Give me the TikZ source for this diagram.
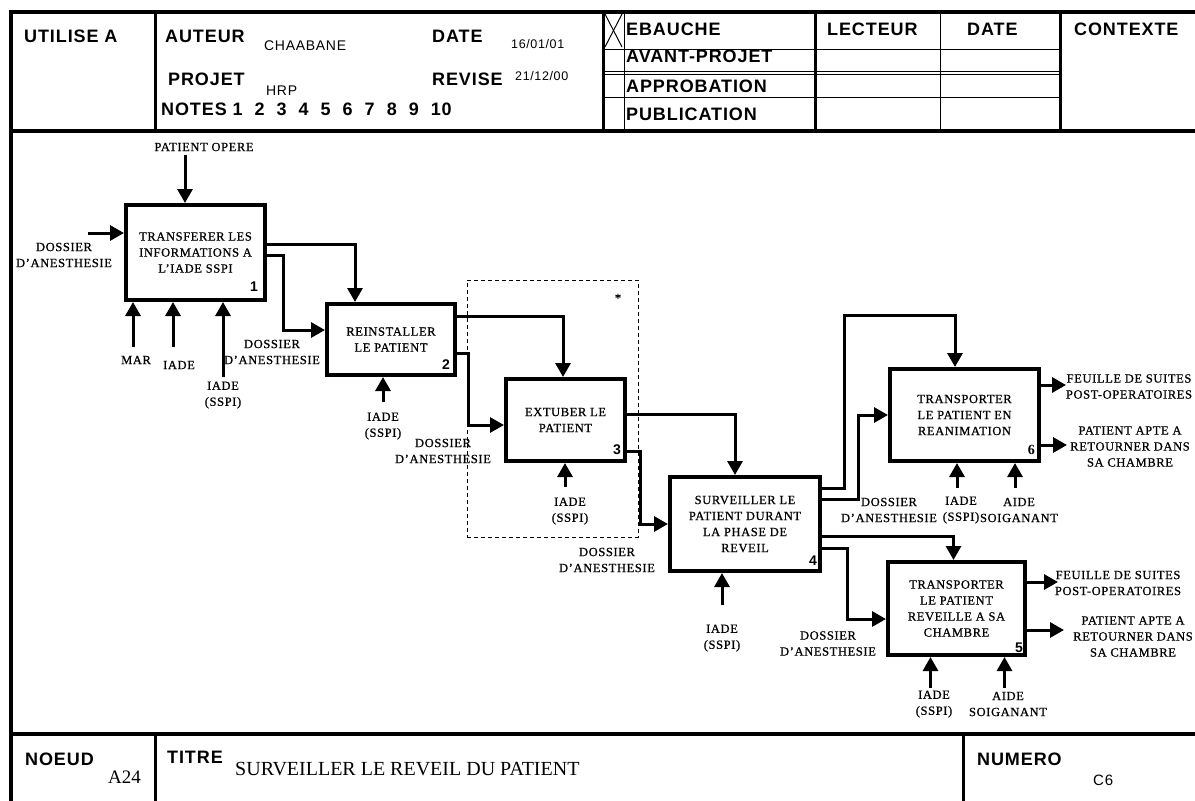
\documentclass[tikz,border=0pt]{standalone}
\usepackage{fontspec}
\setmainfont{Liberation Serif}
\setsansfont{Liberation Sans}
\newfontfamily\hdrfont[LetterSpace=5]{Liberation Sans}
\newfontfamily\lblfont[LetterSpace=5,FakeBold=0.8]{Liberation Serif}
\usetikzlibrary{arrows.meta}
\begin{document}
\begin{tikzpicture}[x=1pt,y=-1pt,
 frm/.style={line width=4pt},
 sepline/.style={line width=3pt},
 septhin/.style={line width=1pt},
 hdr/.style={font=\hdrfont\bfseries\fontsize{18}{20}\selectfont, inner sep=0pt, anchor=base west},
 hval/.style={font=\hdrfont\fontsize{14}{16}\selectfont, inner sep=0pt, anchor=base west},
 hdate/.style={font=\hdrfont\fontsize{12.5}{14}\selectfont, inner sep=0pt, anchor=base west},
 box/.style={draw, line width=4pt, rectangle, inner sep=0pt, align=center, font=\lblfont\fontsize{12.5}{16}\selectfont},
 lbl/.style={inner sep=0pt, align=center, font=\lblfont\fontsize{12.5}{16}\selectfont},
 num/.style={inner sep=0pt, anchor=base east, font=\hdrfont\bfseries\fontsize{14}{16}\selectfont},
 arr/.style={line width=3pt, -{Triangle[length=14pt,width=15pt]}},
 grp/.style={draw, line width=1pt, dash pattern=on 4pt off 3pt, inner sep=0pt}
]
\useasboundingbox (0,0) rectangle (1195,801);
% ---------- form frame ----------
\draw[frm] (11,803) -- (11,12) -- (1197,12);
\draw[frm] (11,131) -- (1197,131);
\draw[frm] (11,734) -- (1197,734);
\draw[sepline] (155,12) -- (155,131);
\draw[sepline] (603,12) -- (603,131);
\draw[septhin] (624,12) -- (624,131);
\draw[sepline] (815,12) -- (815,131);
\draw[septhin] (940,12) -- (940,131);
\draw[sepline] (1060,12) -- (1060,131);
\draw[septhin] (603,49) -- (1060,49);
\draw[septhin] (603,71) -- (1060,71);
\draw[septhin] (603,74) -- (1060,74);
\draw[septhin] (603,97) -- (1060,97);
\draw[septhin] (605,14) -- (622,47);
\draw[septhin] (622,14) -- (605,47);
\draw[sepline] (155,734) -- (155,803);
\draw[sepline] (963,734) -- (963,803);
% ---------- header texts ----------
\node[hdr] (hutil) at (24,42) {UTILISE A};
\node[hdr] (haut) at (165,42) {AUTEUR};
\node[hval] (haut2) at (264,50) {CHAABANE};
\node[hdr] (hdate) at (432,42) {DATE};
\node[hdate] (hdate2) at (511,48) {16/01/01};
\node[hdr] (hproj) at (168,85) {PROJET};
\node[hval] (hproj2) at (266,95) {HRP};
\node[hdr] (hrev) at (432,85) {REVISE};
\node[hdate] (hrev2) at (515,80) {21/12/00};
\node[hdr] (hnotes) at (161,115) {NOTES 1\hspace{12pt}2\hspace{12pt}3\hspace{12pt}4\hspace{12pt}5\hspace{12pt}6\hspace{12pt}7\hspace{12pt}8\hspace{12pt}9\hspace{12pt}10};
\node[hdr] (hebau) at (626,35) {EBAUCHE};
\node[hdr] (havant) at (626,62) {AVANT-PROJET};
\node[hdr] (happro) at (626,92) {APPROBATION};
\node[hdr] (hpubli) at (626,120) {PUBLICATION};
\node[hdr] (hlect) at (827,35) {LECTEUR};
\node[hdr] (hdate3) at (967,35) {DATE};
\node[hdr] (hcont) at (1074,35) {CONTEXTE};
% ---------- footer texts ----------
\node[hdr] (fnoeud) at (25,765) {NOEUD};
\node[inner sep=0pt, anchor=base west, font=\fontsize{19}{21}\selectfont] (fa24) at (108,783) {A24};
\node[hdr] (ftitre) at (167,763) {TITRE};
\node[inner sep=0pt, anchor=base west, font=\fontsize{20}{22}\selectfont] (ftitle) at (235,775) {SURVEILLER LE REVEIL DU PATIENT};
\node[hdr] (fnum) at (977,765) {NUMERO};
\node[inner sep=0pt, anchor=base west, font=\hdrfont\fontsize{15}{17}\selectfont] (fc6) at (1093,785) {C6};
% ---------- group frame ----------
\node[grp, minimum width=171pt, minimum height=257pt] (grpbox) at (552.5,408.5) {};
\node[lbl] (star) at (618,298) {*};
% ---------- activity boxes ----------
\node[box, minimum width=139pt, minimum height=95pt] (b1) at (195.5,252.5) {TRANSFERER LES\\INFORMATIONS A\\L’IADE SSPI};
\node[box, minimum width=128pt, minimum height=71pt] (b2) at (391,339.5) {REINSTALLER\\LE PATIENT};
\node[box, minimum width=119pt, minimum height=82pt] (b3) at (565.5,420) {EXTUBER LE\\PATIENT};
\node[box, minimum width=150pt, minimum height=94pt] (b4) at (745,524) {SURVEILLER LE\\PATIENT DURANT\\LA PHASE DE\\REVEIL};
\node[box, minimum width=149pt, minimum height=92pt] (b6) at (964.5,415) {TRANSPORTER\\LE PATIENT EN\\REANIMATION};
\node[box, minimum width=137pt, minimum height=93pt] (b5) at (956.5,608.5) {TRANSPORTER\\LE PATIENT\\REVEILLE A SA\\CHAMBRE};
\node[num] (n1) at ([shift={(-9,-11)}]b1.south east) {1};
\node[num] (n2) at ([shift={(-7,-8)}]b2.south east) {2};
\node[num] (n3) at ([shift={(-6,-9)}]b3.south east) {3};
\node[num] (n4) at ([shift={(-5,-8)}]b4.south east) {4};
\node[inner sep=0pt, anchor=base east, font=\bfseries\fontsize{14}{16}\selectfont] (n6) at ([shift={(-6,-9)}]b6.south east) {6};
\node[num] (n5) at ([shift={(-4,-5)}]b5.south east) {5};
% ---------- labels ----------
\node[lbl] (lpo) at (204,147) {PATIENT OPERE};
\node[lbl] (ld1) at (64,255) {DOSSIER\\D’ANESTHESIE};
\node[lbl] (lmar) at (136,360) {MAR};
\node[lbl] (lia1) at (179,365) {IADE};
\node[lbl] (lis1) at (223,395) {IADE\\(SSPI)};
\node[lbl] (ld2) at (272,352) {DOSSIER\\D’ANESTHESIE};
\node[lbl] (lis2) at (383,426) {IADE\\(SSPI)};
\node[lbl] (ld3) at (443,451) {DOSSIER\\D’ANESTHESIE};
\node[lbl] (lis3) at (570,511) {IADE\\(SSPI)};
\node[lbl] (ld4) at (607,560) {DOSSIER\\D’ANESTHESIE};
\node[lbl] (lis4) at (722,638) {IADE\\(SSPI)};
\node[lbl] (ld6) at (889,510) {DOSSIER\\D’ANESTHESIE};
\node[lbl] (lis6) at (961,510) {IADE\\(SSPI)};
\node[lbl] (las6) at (1019,510) {AIDE\\SOIGANANT};
\node[lbl] (lf6) at (1129,386.5) {FEUILLE DE SUITES\\POST-OPERATOIRES};
\node[lbl] (lp6) at (1130,446.5) {PATIENT APTE A\\RETOURNER DANS\\SA CHAMBRE};
\node[lbl] (ld5) at (828,643.5) {DOSSIER\\D’ANESTHESIE};
\node[lbl] (lis5) at (934,704) {IADE\\(SSPI)};
\node[lbl] (las5) at (1008,704) {AIDE\\SOIGANANT};
\node[lbl] (lf5) at (1118,583) {FEUILLE DE SUITES\\POST-OPERATOIRES};
\node[lbl] (lp5) at (1133,636.5) {PATIENT APTE A\\RETOURNER DANS\\SA CHAMBRE};
% ---------- connectors ----------
% box 1
\coordinate (po) at (185,155);
\draw[arr] (po) -- (b1.north -| po);
\coordinate (i1) at (88,233);
\draw[arr] (i1) -- (b1.west |- i1);
\coordinate (c1a) at (133,347);
\coordinate (c1b) at (173,347);
\coordinate (c1c) at (223,377);
\draw[arr] (c1a) -- (b1.south -| c1a);
\draw[arr] (c1b) -- (b1.south -| c1b);
\draw[arr] (c1c) -- (b1.south -| c1c);
\coordinate (o1a) at (355,244);
\draw[arr] (b1.east |- o1a) -| (b2.north -| o1a);
\coordinate (o1b) at (283,255);
\coordinate (o1c) at (300,330);
\draw[arr] (b1.east |- o1b) -- (o1b) |- (b2.west |- o1c);
% box 2
\coordinate (c2) at (383,402);
\draw[arr] (c2) -- (b2.south -| c2);
\coordinate (o2a) at (563,316);
\draw[arr] (b2.east |- o2a) -| (b3.north -| o2a);
\coordinate (o2b) at (468,353);
\coordinate (o2c) at (480,425);
\draw[arr] (b2.east |- o2b) -- (o2b) |- (b3.west |- o2c);
% box 3
\coordinate (c3) at (565,487);
\draw[arr] (c3) -- (b3.south -| c3);
\coordinate (o3a) at (735,414);
\draw[arr] (b3.east |- o3a) -| (b4.north -| o3a);
\coordinate (o3b) at (640,451);
\coordinate (o3c) at (650,524);
\draw[arr] (b3.east |- o3b) -- (o3b) |- (b4.west |- o3c);
% box 4
\coordinate (c4) at (722,605);
\draw[arr] (c4) -- (b4.south -| c4);
\coordinate (o4a) at (844,488);
\coordinate (o4b) at (955,315);
\draw[arr] (b4.east |- o4a) -- (o4a) |- (o4b) -- (b6.north -| o4b);
\coordinate (o4c) at (858,499);
\coordinate (o4d) at (870,415);
\draw[arr] (b4.east |- o4c) -- (o4c) |- (b6.west |- o4d);
\coordinate (o4e) at (953.5,536);
\draw[arr] (b4.east |- o4e) -| (b5.north -| o4e);
\coordinate (o4f) at (847,548);
\coordinate (o4g) at (870,619);
\draw[arr] (b4.east |- o4f) -- (o4f) |- (b5.west |- o4g);
% box 6
\coordinate (c6a) at (957,488);
\coordinate (c6b) at (1015,488);
\draw[arr] (c6a) -- (b6.south -| c6a);
\draw[arr] (c6b) -- (b6.south -| c6b);
\coordinate (e6a) at (1066,385);
\coordinate (e6b) at (1067,445);
\draw[arr] (b6.east |- e6a) -- (e6a);
\draw[arr] (b6.east |- e6b) -- (e6b);
% box 5
\coordinate (c5a) at (930.5,688);
\coordinate (c5b) at (1004.5,688);
\draw[arr] (c5a) -- (b5.south -| c5a);
\draw[arr] (c5b) -- (b5.south -| c5b);
\coordinate (e5a) at (1058,582);
\coordinate (e5b) at (1064,630);
\draw[arr] (b5.east |- e5a) -- (e5a);
\draw[arr] (b5.east |- e5b) -- (e5b);
\end{tikzpicture}
\end{document}
